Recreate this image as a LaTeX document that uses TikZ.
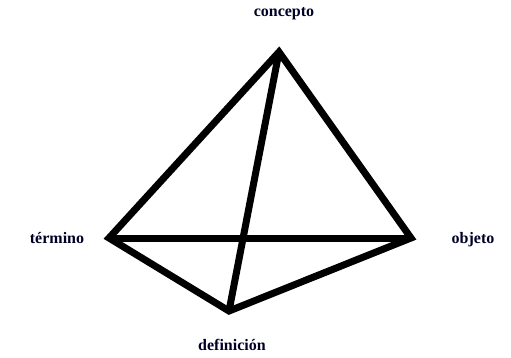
\documentclass[tikz,border=0pt]{standalone}
\usepackage{fontspec}
\setmainfont{Liberation Serif}
\usetikzlibrary{positioning}

\begin{document}
\begin{tikzpicture}[x=1pt,y=-1pt,
  edge/.style={line width=7pt, line join=miter},
  lbl/.style={font=\fontsize{16}{18}\selectfont\bfseries, text=blue!15!black, inner sep=1pt}]
  \useasboundingbox (0,0) rectangle (511,358);
  % corners of the tetrahedron
  \coordinate (conc) at (279,52);
  \coordinate (term) at (109,238);
  \coordinate (obj) at (411,238);
  \coordinate (defi) at (229,311);
  \node[lbl] (lconc) at (284,14) {concepto};
  \node[lbl] (lterm) at (57,238) {término};
  \node[lbl] (lobj) at (473,240) {objeto};
  \node[lbl] (ldefi) at (232,345) {definición};
  \draw[edge] (conc) -- (term) -- (defi) -- (obj) -- cycle;
  \draw[edge] (term) -- (obj);
  \draw[edge] (conc) -- (defi);
\end{tikzpicture}
\end{document}
